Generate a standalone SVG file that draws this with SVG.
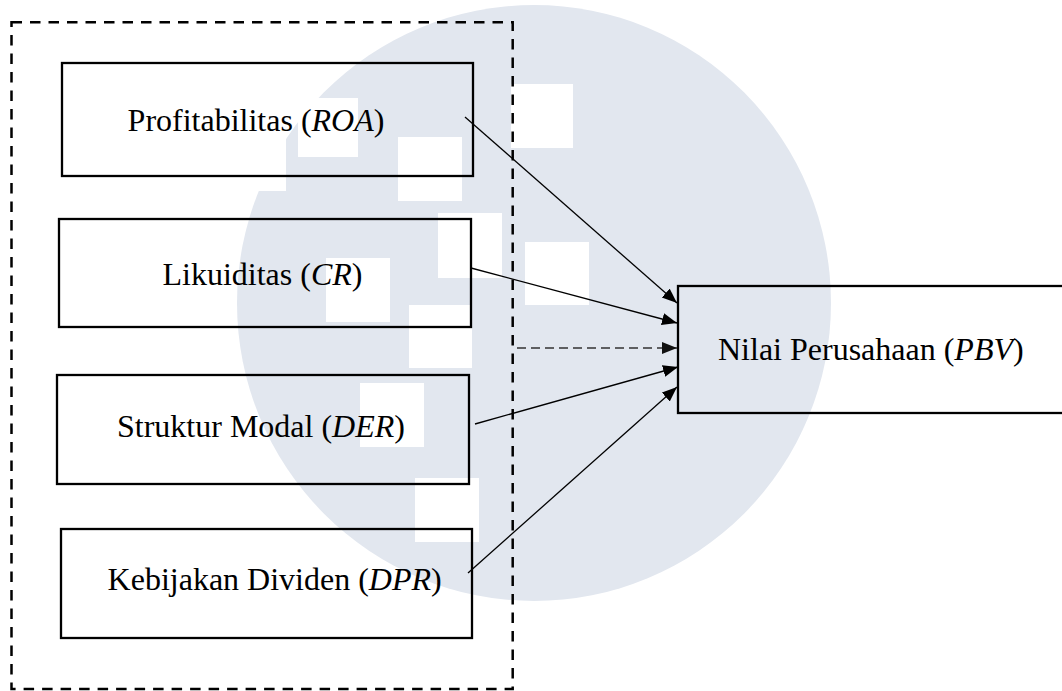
<svg xmlns="http://www.w3.org/2000/svg" width="1062" height="691" viewBox="0 0 1062 691">
<style>
.box{fill:none;stroke:#000;stroke-width:2.3}
.lbl{font-family:"Liberation Serif","Times New Roman",serif;font-size:32px;fill:#000}
.it{font-style:italic}
.edge{stroke:#000;stroke-width:1.3;fill:none}
.wm{fill:#fff}
</style>
<defs>
<marker id="ah" markerUnits="userSpaceOnUse" markerWidth="16" markerHeight="13" refX="15" refY="6" orient="auto">
<path d="M0,0 L15,6 L0,12 Z" fill="#000"/>
</marker>
<marker id="ahg" markerUnits="userSpaceOnUse" markerWidth="16" markerHeight="13" refX="15" refY="6" orient="auto">
<path d="M0,0 L15,6 L0,12 Z" fill="#111"/>
</marker>
</defs>
<rect width="1062" height="691" fill="#fff"/>
<g id="watermark">
<ellipse cx="534" cy="303" rx="297" ry="298" fill="#e2e7ef"/>
<rect class="wm" x="225" y="128" width="61" height="63"/>
<rect class="wm" x="298" y="98" width="60" height="59"/>
<rect class="wm" x="398" y="137" width="64" height="64"/>
<rect class="wm" x="438" y="213" width="64" height="65"/>
<rect class="wm" x="326" y="258" width="64" height="64"/>
<rect class="wm" x="409" y="305" width="63" height="63"/>
<rect class="wm" x="360" y="383" width="64" height="64"/>
<rect class="wm" x="415" y="478" width="64" height="64"/>
<rect class="wm" x="511" y="84" width="62" height="64"/>
<rect class="wm" x="525" y="242" width="64" height="63"/>
</g>
<g id="group-boundary">
<rect x="11.5" y="22.3" width="501.2" height="666.7" fill="none" stroke="#000" stroke-width="2.5" stroke-dasharray="10.5 8"/>
</g>
<g id="node-roa">
<rect class="box" x="62" y="63" width="411" height="113"/>
<text class="lbl" x="127.6" y="131">Profitabilitas (<tspan class="it">ROA</tspan>)</text>
</g>
<g id="node-cr">
<rect class="box" x="59" y="219" width="412" height="108"/>
<text class="lbl" x="162.5" y="285">Likuiditas (<tspan class="it">CR</tspan>)</text>
</g>
<g id="node-der">
<rect class="box" x="57" y="375" width="412" height="109"/>
<text class="lbl" x="117" y="437">Struktur Modal (<tspan class="it">DER</tspan>)</text>
</g>
<g id="node-dpr">
<rect class="box" x="61" y="529" width="411" height="109"/>
<text class="lbl" x="107.6" y="590">Kebijakan Dividen (<tspan class="it">DPR</tspan>)</text>
</g>
<g id="node-pbv">
<rect class="box" x="678" y="286" width="420" height="127"/>
<text class="lbl" x="718" y="360">Nilai Perusahaan (<tspan class="it">PBV</tspan>)</text>
</g>
<g id="connectors">
<line class="edge" x1="465" y1="117" x2="677" y2="303" marker-end="url(#ah)"/>
<line class="edge" x1="471" y1="268" x2="677" y2="323" marker-end="url(#ah)"/>
<line x1="517" y1="348" x2="677" y2="348" stroke="#333" stroke-width="1.5" stroke-dasharray="9 5" marker-end="url(#ahg)"/>
<line class="edge" x1="475" y1="424" x2="678" y2="367" marker-end="url(#ah)"/>
<line class="edge" x1="468" y1="573" x2="677" y2="387" marker-end="url(#ah)"/>
</g>
</svg>
